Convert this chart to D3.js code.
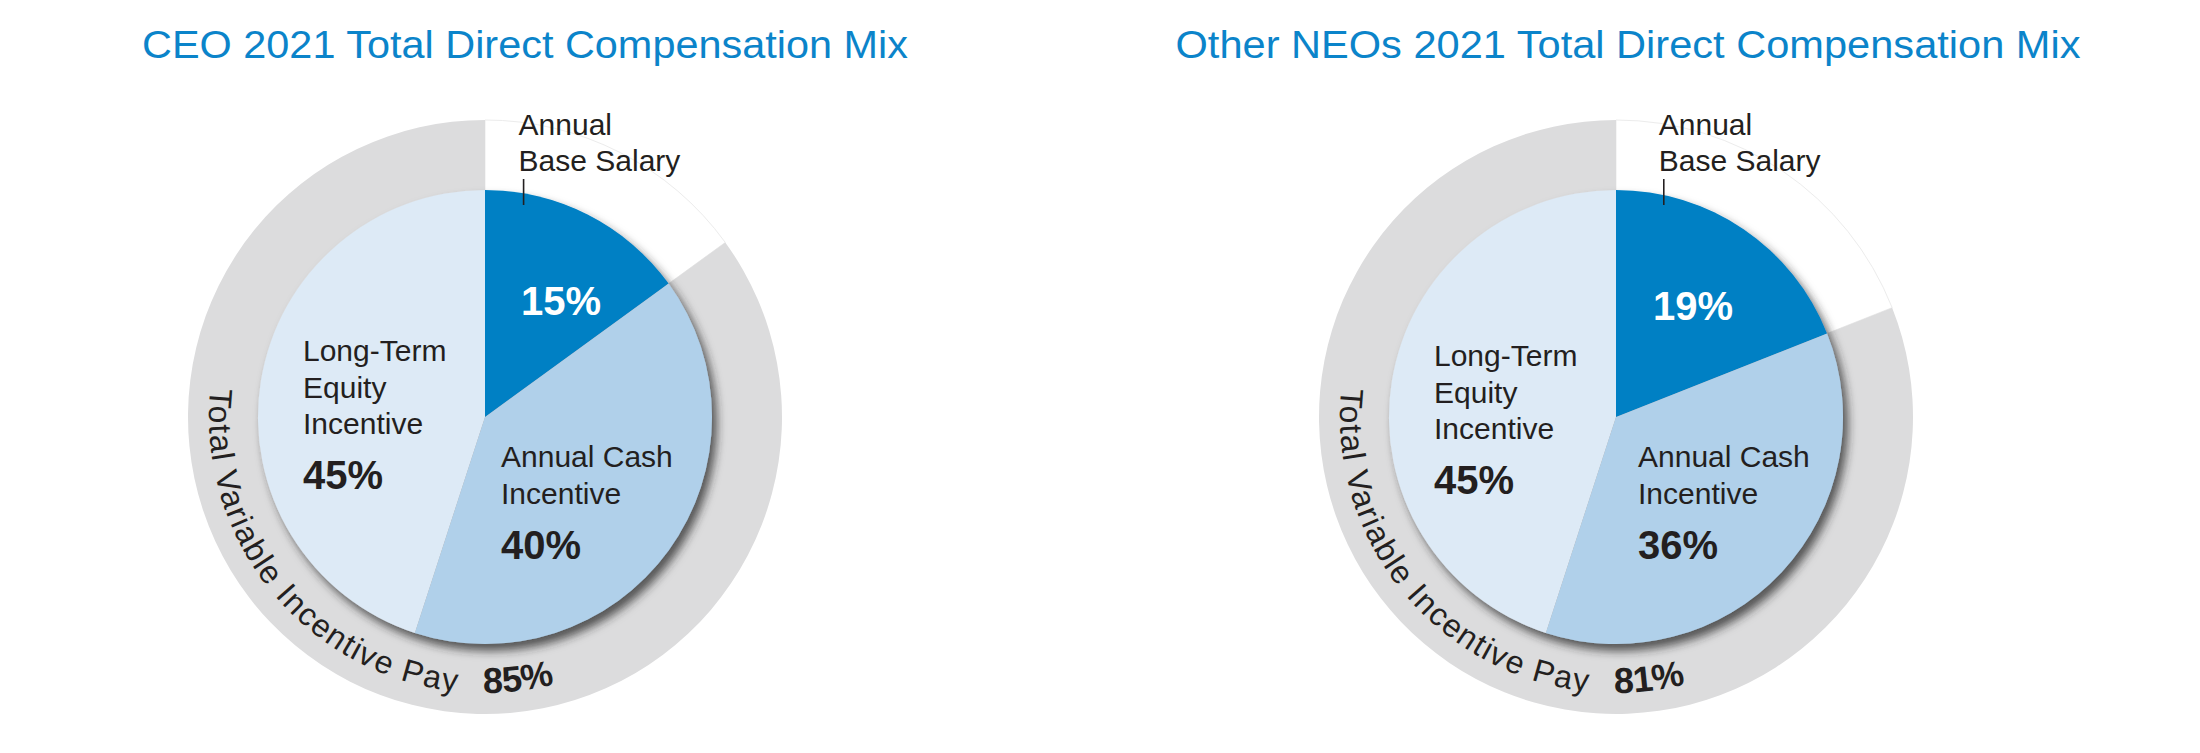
<!DOCTYPE html>
<html><head><meta charset="utf-8">
<script src="https://cdn.jsdelivr.net/npm/d3@7/dist/d3.min.js"></script>
<style>body{margin:0;background:#fff} svg{display:block}</style>
</head><body><svg id="c" width="2200" height="753"></svg>
<script>
// ---- data ----
const chartTitles = ["CEO 2021 Total Direct Compensation Mix", "Other NEOs 2021 Total Direct Compensation Mix"];
const categories = ["Annual Base Salary", "Annual Cash Incentive", "Long-Term Equity Incentive"];
const categoryLines = [["Annual", "Base Salary"], ["Annual Cash", "Incentive"], ["Long-Term", "Equity", "Incentive"]];
const ceoValues = [15, 40, 45];
const neoValues = [19, 36, 45];
const variableLabel = "Total Variable Incentive Pay";
const variableTotals = [85, 81];

// ---- style / layout ----
const sliceColors = ["#0080c4", "#b0d0ea", "#ddeaf6"];
const ringColor = "#dcdcdd";
const titleColor = "#0b84ca";
const textColor = "#231f20";
const layout = [
  {cx: 485, cy: 417, titleX: 525, titleW: 766, basePct: [36, -102], cash: [16, 50], longT: [-182, -56]},
  {cx: 1616, cy: 417, titleX: 1628, titleW: 905, basePct: [37, -97], cash: [22, 50], longT: [-182, -51]}
];
const R = 227, RING = 297, TEXT_R = 276;
const FONT = "'Liberation Sans', Arial, Helvetica, sans-serif";

const svg = d3.select("#c");
const defs = svg.append("defs");
const f = defs.append("filter").attr("id", "shadow").attr("x", "-20%").attr("y", "-20%").attr("width", "140%").attr("height", "140%");
f.append("feDropShadow").attr("dx", 5).attr("dy", 7).attr("stdDeviation", 5)
  .attr("flood-color", "#2a2a2a").attr("flood-opacity", 0.75);

const pie = d3.pie().sort(null).value(d => d);
const arc = d3.arc().innerRadius(0).outerRadius(R);
const ringArc = d3.arc().innerRadius(0).outerRadius(RING);
const deg = Math.PI / 180;
const polar = (cx, cy, a, r) => [cx + r * Math.sin(a), cy - r * Math.cos(a)];

[ceoValues, neoValues].forEach((values, i) => {
  const L = layout[i];
  const arcs = pie(values);
  const g = svg.append("g");

  // title
  g.append("text").attr("x", L.titleX).attr("y", 58).attr("text-anchor", "middle")
    .attr("font-family", "'Liberation Sans Narrow', 'Arial Narrow', " + FONT)
    .attr("font-size", 38).attr("fill", titleColor)
    .attr("textLength", L.titleW).attr("lengthAdjust", "spacingAndGlyphs")
    .text(chartTitles[i]);

  const c = g.append("g").attr("transform", `translate(${L.cx},${L.cy})`);

  // outer ring: white wedge for base salary, gray for variable pay
  const baseEnd = arcs[0].endAngle;
  c.append("path").attr("d", ringArc({startAngle: 0, endAngle: baseEnd}))
    .attr("fill", "#fff").attr("stroke", "#ececec").attr("stroke-width", 1);
  c.append("path").attr("d", ringArc({startAngle: baseEnd, endAngle: 2 * Math.PI}))
    .attr("fill", ringColor);

  // pie
  const pg = c.append("g").attr("filter", "url(#shadow)");
  pg.selectAll("path").data(arcs).join("path")
    .attr("d", arc).attr("fill", (d, k) => sliceColors[k]);

  // base salary label (outside) with tick
  const baseMid = (arcs[0].startAngle + arcs[0].endAngle) / 2;
  const tickX = 85 * Math.sin(baseMid);
  c.append("line").attr("x1", tickX).attr("x2", tickX).attr("y1", -238).attr("y2", -212)
    .attr("stroke", textColor).attr("stroke-width", 1.6);
  const bt = c.append("text").attr("font-family", FONT).attr("font-size", 30).attr("fill", textColor);
  categoryLines[0].forEach((ln, k) => {
    bt.append("tspan").attr("x", tickX - 5).attr("y", -282 + k * 36).text(ln);
  });
  c.append("text").attr("x", L.basePct[0]).attr("y", L.basePct[1])
    .attr("font-family", FONT).attr("font-size", 40).attr("font-weight", "bold").attr("fill", "#fff")
    .text(values[0] + "%");

  // cash & long-term labels
  [[1, L.cash], [2, L.longT]].forEach(([k, pos]) => {
    const t = c.append("text").attr("font-family", FONT).attr("font-size", 30).attr("fill", textColor);
    const lines = categoryLines[k];
    lines.forEach((ln, j) => {
      t.append("tspan").attr("x", pos[0]).attr("y", pos[1] + j * 36.5).text(ln);
    });
    c.append("text").attr("x", pos[0]).attr("y", pos[1] + (lines.length - 1) * 36.5 + 55)
      .attr("font-family", FONT).attr("font-size", 40).attr("font-weight", "bold").attr("fill", textColor)
      .text(values[k] + "%");
  });

  // curved label along ring
  const a0 = 276 * deg, a1 = 140 * deg;
  const p0 = polar(0, 0, a0, TEXT_R), p1 = polar(0, 0, a1, TEXT_R);
  const pid = "tp" + i;
  defs.append("path").attr("id", pid)
    .attr("d", `M${p0[0]},${p0[1]} A${TEXT_R},${TEXT_R} 0 0 0 ${p1[0]},${p1[1]}`)
    .attr("transform", `translate(${L.cx},${L.cy})`);
  // path inside defs is not transformed for textPath usage; use group-local path instead
  defs.select("#" + pid).remove();
  c.append("path").attr("id", pid).attr("fill", "none")
    .attr("d", `M${p0[0]},${p0[1]} A${TEXT_R},${TEXT_R} 0 0 0 ${p1[0]},${p1[1]}`);

  const lt = c.append("text").attr("font-family", FONT).attr("font-size", 32).attr("fill", textColor);
  const ltp = lt.append("textPath").attr("href", "#" + pid).attr("startOffset", 0).text(variableLabel);
  const targetLen = (276 - 186) * deg * TEXT_R;
  const natural = lt.node().getComputedTextLength();
  lt.attr("letter-spacing", (targetLen - natural) / (variableLabel.length - 1));

  const pt = c.append("text").attr("font-family", FONT).attr("font-size", 36).attr("font-weight", "bold").attr("fill", textColor);
  pt.append("textPath").attr("href", "#" + pid).attr("startOffset", (276 - 180.4) * deg * TEXT_R)
    .text(variableTotals[i] + "%");
});
</script></body></html>
